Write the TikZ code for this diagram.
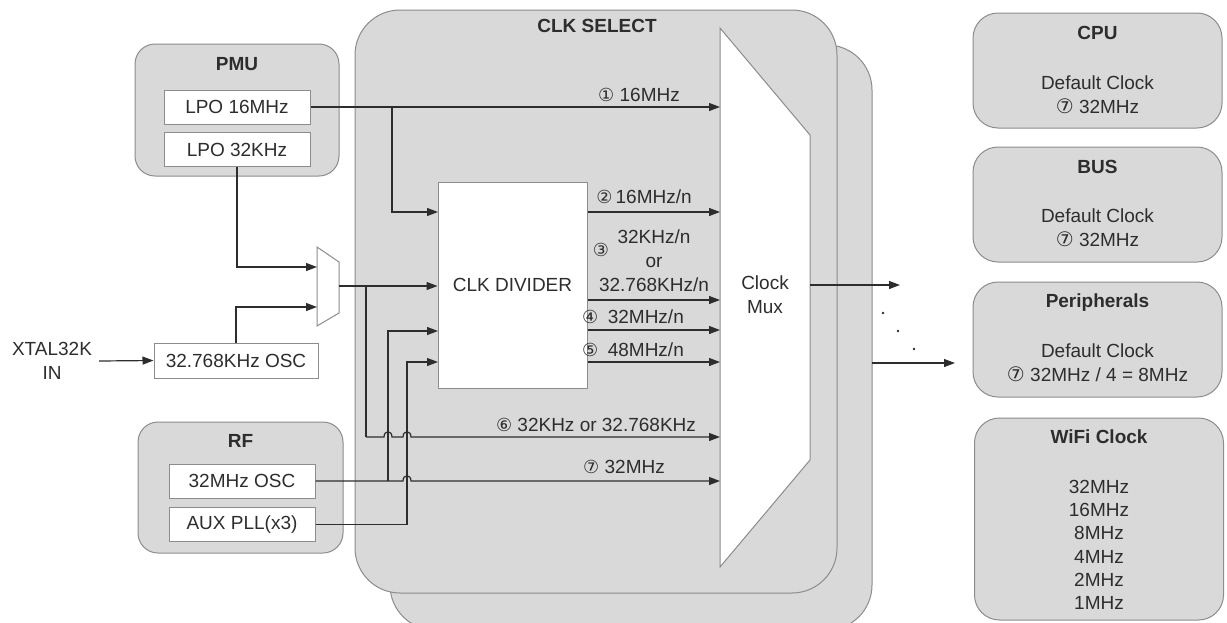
\documentclass[tikz,border=0pt]{standalone}
\usepackage{fontspec}
\setmainfont{Liberation Sans}
\newfontfamily\dvfont{DejaVu Sans}
\usetikzlibrary{arrows.meta}
\definecolor{boxgray}{RGB}{217,217,217}
\definecolor{edgegray}{RGB}{140,140,140}
\definecolor{linec}{RGB}{45,45,45}
\newcommand{\cd}[1]{{\dvfont\fontsize{18}{20}\selectfont #1}}
\newcommand{\cdb}[1]{{\dvfont\fontsize{20}{22}\selectfont #1}}
\begin{document}
\begin{tikzpicture}[x=1pt,y=-1pt,
  font=\fontsize{19}{24}\selectfont, text=linec,
  grp/.style={draw=edgegray, fill=boxgray, line width=1pt, rounded corners=20pt, inner sep=0pt},
  wbox/.style={draw=edgegray, fill=white, line width=1pt, inner sep=0pt, minimum width=146pt, minimum height=34pt},
  rbox/.style={draw=edgegray, fill=boxgray, line width=1pt, rounded corners=25pt, inner sep=0pt, minimum width=249pt},
  ttl/.style={font=\bfseries\fontsize{19}{24}\selectfont, inner sep=1pt},
  txt/.style={inner sep=1pt, align=center},
  ln/.style={draw=linec, line width=1.2pt},
  arr/.style={ln, -{Triangle[length=11pt,width=8pt]}},
]
\useasboundingbox (0,0) rectangle (1227,622);

% ---- CLK SELECT background boxes
\node[draw=edgegray, fill=boxgray, line width=1pt, rounded corners=45pt, inner sep=0pt,
      minimum width=482pt, minimum height=585pt] (selback) at (631,337.5) {};
\node[draw=edgegray, fill=boxgray, line width=1pt, rounded corners=45pt, inner sep=0pt,
      minimum width=482pt, minimum height=583pt] (sel) at (596,301.5) {};
\node[ttl] (selttl) at (597,26) {CLK SELECT};

% ---- Clock Mux
\coordinate (mtl) at (720,28);
\coordinate (mtr) at (810,135);
\coordinate (mbr) at (810,460);
\coordinate (mbl) at (720,567);
\draw[draw=edgegray, fill=white, line width=1pt] (mtl) -- (mtr) -- (mbr) -- (mbl) -- cycle;
\node[txt] (mux) at (765,295) {Clock\\Mux};

% ---- PMU
\node[grp, minimum width=204pt, minimum height=132pt] (pmu) at (237,110) {};
\node[ttl] (pmuttl) at (237,64) {PMU};
\node[wbox] (lpo16) at (237,107) {LPO 16MHz};
\node[wbox] (lpo32) at (237,149.5) {LPO 32KHz};

% ---- RF
\node[grp, minimum width=205pt, minimum height=131pt] (rf) at (240.5,487.5) {};
\node[ttl] (rfttl) at (240.5,441) {RF};
\node[wbox] (osc32m) at (242,481) {32MHz OSC};
\node[wbox] (aux) at (242,524.5) {AUX PLL(x3)};

% ---- XTAL / 32.768KHz OSC
\node[txt, inner sep=7pt] (xtal) at (52,361) {XTAL32K\\IN};
\node[wbox, minimum width=164pt, minimum height=35pt] (osc32k) at (236,360.5) {32.768KHz OSC};

% ---- small mux
\coordinate (smA) at (317,247);
\coordinate (smB) at (339,262);
\coordinate (smC) at (339,313);
\coordinate (smD) at (317,326);
\draw[draw=edgegray, fill=white, line width=1pt] (smA) -- (smB) -- (smC) -- (smD) -- cycle;
\coordinate (smin1) at (317,267);
\coordinate (smin2) at (317,307);
\coordinate (smout) at (339,286);

% ---- CLK DIVIDER
\node[draw=edgegray, fill=white, line width=1pt, inner sep=0pt, minimum width=149pt, minimum height=206pt] (div) at (512.5,285) {CLK DIVIDER};
\coordinate (din1) at (438,212);
\coordinate (din3) at (438,331);
\coordinate (din4) at (438,362);

% ---- junctions
\coordinate (j16) at (392,107);
\coordinate (jsm) at (366,286);
\coordinate (j6) at (366,437);
\coordinate (j32) at (388,481);
\coordinate (jaux) at (407,524);

% mux input points
\coordinate (m1) at (720,107);
\coordinate (m2) at (720,212);
\coordinate (m3) at (720,300);
\coordinate (m4) at (720,330);
\coordinate (m5) at (720,362);
\coordinate (m6) at (720,437);
\coordinate (m7) at (720,481);

% ---- connectors
\draw[arr] (xtal.east) -- (osc32k.west);
\draw[arr] (lpo32.south) |- (smin1);
\draw[arr] (osc32k.north) |- (smin2);

\draw[arr] (lpo16.east) -- (m1);
\draw[arr] (j16) |- (din1);
\draw[arr] (smout) -- (smout -| div.west);
\draw[ln] (jsm) -- (j6);
\draw[arr] (j6) -- (384,437) .. controls (384,430) and (392,430) .. (392,437)
  -- (403,437) .. controls (403,430) and (411,430) .. (411,437) -- (m6);
\draw[arr] (osc32m.east) -- (403,481) .. controls (403,474) and (411,474) .. (411,481) -- (m7);
\draw[arr] (j32) |- (din3);
\draw[arr] (aux.east) -| (din4 -| jaux) -- (din4);

\draw[arr] (div.east |- m2) -- (m2);
\draw[arr] (div.east |- m3) -- (m3);
\draw[arr] (div.east |- m4) -- (m4);
\draw[arr] (div.east |- m5) -- (m5);

% ---- labels
\node[txt] (l1) at (639,95) {\cd{①} 16MHz};
\node[txt] (l2) at (644,197) {\cd{②}\,16MHz/n};
\node[txt] (l3c) at (601,250) {\cd{③}};
\node[txt] (l3) at (654,261) {32KHz/n\\or\\32.768KHz/n};
\node[txt] (l4) at (633,317) {\cd{④}\enspace 32MHz/n};
\node[txt] (l5) at (633,350) {\cd{⑤}\enspace 48MHz/n};
\node[txt] (l6) at (596,425) {\cd{⑥} 32KHz or 32.768KHz};
\node[txt] (l7) at (624,467) {\cd{⑦} 32MHz};

% ---- outputs
\coordinate (mo) at (810,285);
\coordinate (moe) at (900,285);
\coordinate (bo) at (872,363);
\coordinate (boe) at (955,363);
\draw[arr] (mo) -- (moe);
\draw[arr] (bo) -- (boe);
\fill[linec] (883,313) circle (1.3pt) (898,331) circle (1.3pt) (914,349) circle (1.3pt);

% ---- right boxes
\node[rbox, minimum height=115pt] (cpu) at (1097.5,70.5) {};
\node[ttl] (cputtl) at (1097.5,33) {CPU};
\node[txt] (cputxt) at (1097.5,94.5) {Default Clock\\\cdb{⑦} 32MHz};

\node[rbox, minimum height=115pt] (bus) at (1097.5,204.5) {};
\node[ttl] (busttl) at (1097.5,167) {BUS};
\node[txt] (bustxt) at (1097.5,228) {Default Clock\\\cdb{⑦} 32MHz};

\node[rbox, minimum height=115pt] (per) at (1097.5,339.5) {};
\node[ttl] (perttl) at (1097.5,303) {Peripherals};
\node[txt] (pertxt) at (1097.5,363) {Default Clock\\\cdb{⑦} 32MHz / 4 = 8MHz};

\node[rbox, minimum height=202pt] (wifi) at (1099,519) {};
\node[ttl] (wifittl) at (1099,437) {WiFi Clock};
\node[txt, font=\fontsize{19}{23.3}\selectfont] (wifitxt) at (1099,545) {32MHz\\16MHz\\8MHz\\4MHz\\2MHz\\1MHz};
\end{tikzpicture}
\end{document}
